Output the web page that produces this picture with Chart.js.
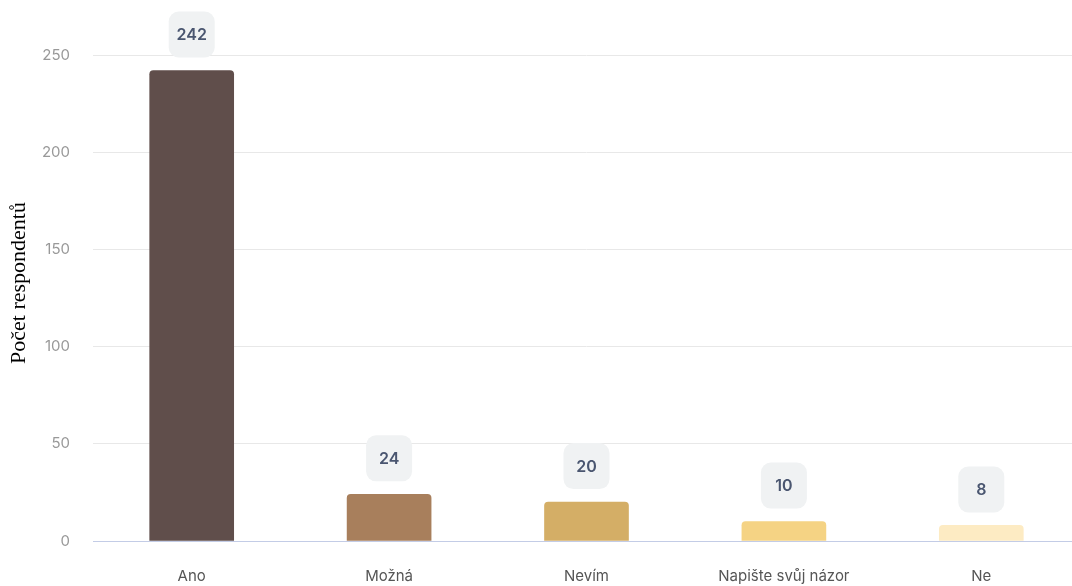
<!DOCTYPE html>
<html>
<head>
<meta charset="utf-8">
<script src="https://cdn.jsdelivr.net/npm/chart.js@4"></script>
<style>
    html, body { margin: 0; padding: 0; background: #ffffff; overflow: hidden; }
    #wrap { position: relative; width: 1088px; height: 586px; }
</style>
</head>
<body>
<div id="wrap"><canvas id="answersChart"></canvas></div>
<script>
const categories = ['Ano', 'Možná', 'Nevím', 'Napište svůj názor', 'Ne'];
const counts = [242, 24, 20, 10, 8];
const barColors = ['#604e4b', '#a87f5c', '#d4ae66', '#f5d384', '#fdebc3'];
const yTicks = [0, 50, 100, 150, 200, 250];
const yTitle = 'Počet respondentů';

// Rounded value badges above each bar
const valueBadges = {
    id: 'valueBadges',
    afterDatasetsDraw(chart) {
        const ctx = chart.ctx;
        const meta = chart.getDatasetMeta(0);
        ctx.save();
        meta.data.forEach((bar, i) => {
            const size = 46;
            const x = bar.x - size / 2;
            const y = bar.y - 13 - size;
            ctx.fillStyle = '#f0f2f3';
            ctx.beginPath();
            ctx.roundRect(x, y, size, size, 10);
            ctx.fill();
            ctx.fillStyle = '#4a5670';
            ctx.font = "600 16px Inter";
            ctx.textAlign = 'center';
            ctx.textBaseline = 'middle';
            ctx.fillText(String(counts[i]), bar.x, y + size / 2 + 1);
        });
        ctx.restore();
    }
};

// Vertical axis title, sitting a bit above the middle of the plot
const axisTitle = {
    id: 'axisTitle',
    afterDraw(chart) {
        const ctx = chart.ctx;
        const area = chart.chartArea;
        ctx.save();
        ctx.translate(19, (area.top + area.bottom) / 2 - 15);
        ctx.rotate(-Math.PI / 2);
        ctx.fillStyle = '#000000';
        ctx.font = "22px 'Liberation Serif'";
        ctx.textAlign = 'center';
        ctx.textBaseline = 'middle';
        ctx.fillText(yTitle, 0, 0);
        ctx.restore();
    }
};

const ctx = document.getElementById('answersChart').getContext('2d');
new Chart(ctx, {
    type: 'bar',
    data: {
        labels: categories,
        datasets: [{
            data: counts,
            backgroundColor: barColors,
            borderRadius: { topLeft: 4, topRight: 4 },
            borderSkipped: 'bottom',
            barThickness: 84
        }]
    },
    options: {
        responsive: true,
        maintainAspectRatio: false,
        animation: false,
        layout: {
            padding: { top: 55, left: 0, right: 8, bottom: 0 }
        },
        plugins: {
            legend: { display: false },
            tooltip: { enabled: false }
        },
        scales: {
            x: {
                afterFit(scale) { scale.height = 45; },
                grid: { display: false },
                border: { display: true, color: '#c3cce6', width: 1 },
                ticks: {
                    color: '#555555',
                    padding: 18,
                    font: { family: 'Inter', size: 15 }
                }
            },
            y: {
                min: 0,
                max: 250,
                afterBuildTicks(axis) {
                    axis.ticks = yTicks.map(v => ({ value: v }));
                },
                afterFit(scale) { scale.width = 93; },
                grid: { color: '#e8e8e8', drawTicks: false },
                border: { display: false },
                ticks: {
                    color: '#999999',
                    padding: 23,
                    font: { family: 'Inter', size: 15 }
                }
            }
        }
    },
    plugins: [valueBadges, axisTitle]
});
</script>
</body>
</html>
